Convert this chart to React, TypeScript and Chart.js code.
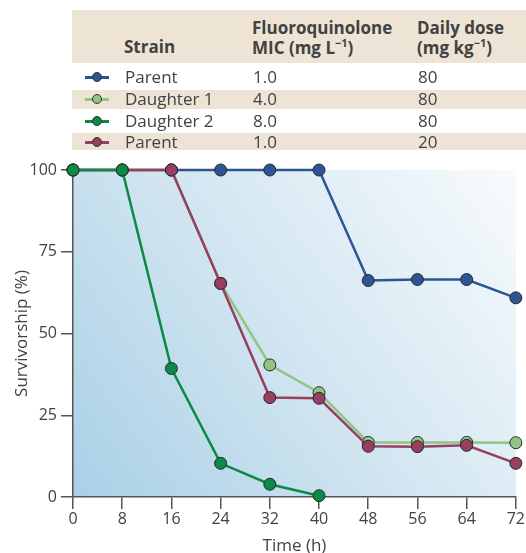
import React, { useEffect, useRef } from "react";
import { Chart, registerables } from "chart.js";

Chart.register(...registerables);

const hours = [0, 8, 16, 24, 32, 40, 48, 56, 64, 72];
const parent80 = [100, 100, 100, 100, 100, 100, 66.2, 66.5, 66.5, 60.9];
const daughter1 = [100, 100, 100, 65.3, 40.4, 31.9, 16.7, 16.7, 16.7, 16.6];
const daughter2 = [100, 100, 39.3, 10.3, 3.9, 0.4];
const parent20 = [100, 100, 100, 65.3, 30.4, 30.2, 15.5, 15.4, 15.8, 10.3];
const yTicks = [0, 25, 50, 75, 100];

const strains = ["Parent", "Daughter 1", "Daughter 2", "Parent"];
const mics = ["1.0", "4.0", "8.0", "1.0"];
const doses = ["80", "80", "80", "20"];
const colors = ["#2d5596", "#90c583", "#0b8a47", "#983f60"];

const FONT = "'Open Sans', 'Noto Sans', sans-serif";
const TEXT = "#424242";
const AXIS = "#555555";

const toPts = (arr: number[]) => arr.map((v, i) => ({ x: hours[i], y: v }));

const bgPlugin = {
  id: "bgGrad",
  beforeDraw(chart: any) {
    const { ctx, chartArea: a } = chart;
    const g = ctx.createLinearGradient(a.left, a.bottom, a.right, a.top);
    g.addColorStop(0, "#a9d0e6");
    g.addColorStop(0.45, "#cfe4f0");
    g.addColorStop(1, "#f8fbfd");
    ctx.save();
    ctx.fillStyle = g;
    ctx.fillRect(a.left, a.top, a.right - a.left, a.bottom - a.top);
    ctx.restore();
  },
};

function Marker({ color }: { color: string }) {
  return (
    <div style={{ position: "relative", width: 24, height: 10 }}>
      <div style={{ position: "absolute", left: 0, top: 4, width: 24, height: 2.5, background: color }} />
      <div
        style={{
          position: "absolute",
          left: 7,
          top: 0,
          width: 8,
          height: 8,
          borderRadius: "50%",
          background: color,
          border: "1px solid #333",
        }}
      />
    </div>
  );
}

export default function App() {
  const ref = useRef<HTMLCanvasElement | null>(null);

  useEffect(() => {
    document.body.style.margin = "0";
    const series = [
      { label: "Daughter 2", data: daughter2, color: colors[2] },
      { label: "Parent (20)", data: parent20, color: colors[3] },
      { label: "Daughter 1", data: daughter1, color: colors[1] },
      { label: "Parent (80)", data: parent80, color: colors[0] },
    ];
    const chart = new Chart(ref.current as HTMLCanvasElement, {
      type: "line",
      data: {
        datasets: series.map((s) => ({
          label: s.label,
          data: toPts(s.data),
          borderColor: s.color,
          backgroundColor: s.color,
          borderWidth: 2.5,
          pointRadius: 6,
          pointBorderColor: "#2a2a2a",
          pointBorderWidth: 1,
          pointBackgroundColor: s.color,
          tension: 0,
          clip: false,
        })),
      },
      options: {
        animation: false,
        responsive: false,
        layout: { padding: { top: 170, right: 9, left: 0, bottom: 0 } },
        plugins: { legend: { display: false }, tooltip: { enabled: false } },
        scales: {
          x: {
            type: "linear",
            min: 0,
            max: 72,
            afterFit: (s: any) => {
              s.height = 56;
            },
            ticks: {
              stepSize: 8,
              color: TEXT,
              font: { family: FONT, size: 16 },
              padding: 1,
            },
            grid: { drawOnChartArea: false, tickLength: 12, color: AXIS, lineWidth: 1.5 },
            border: { color: AXIS, width: 1.5 },
            title: {
              display: true,
              text: "Time (h)",
              color: TEXT,
              font: { family: FONT, size: 17 },
              padding: { top: 0, bottom: -3 },
            },
          },
          y: {
            min: 0,
            max: 100,
            afterFit: (s: any) => {
              s.width = 73;
            },
            afterBuildTicks: (s: any) => {
              s.ticks = yTicks.map((v) => ({ value: v }));
            },
            ticks: {
              color: TEXT,
              font: { family: FONT, size: 16 },
              padding: 4,
            },
            grid: { drawOnChartArea: false, tickLength: 12, color: AXIS, lineWidth: 1.5 },
            border: { color: AXIS, width: 1.5 },
            title: {
              display: true,
              text: "Survivorship (%)",
              color: TEXT,
              font: { family: FONT, size: 17 },
              padding: { top: 12, bottom: 0 },
            },
          },
        },
      },
      plugins: [bgPlugin],
    } as any);
    return () => chart.destroy();
  }, []);

  const beige = "#eee4d5";
  const rowTops = [66, 88, 110, 131];
  const sup = { fontSize: 11, verticalAlign: "7px", lineHeight: 0 } as const;

  return (
    <div style={{ position: "relative", width: 526, height: 553, fontFamily: FONT, color: TEXT }}>
      <canvas ref={ref} width={526} height={553} style={{ position: "absolute", left: 0, top: 0 }} />
      <div style={{ position: "absolute", left: 72, top: 10, width: 454, height: 53, background: beige }} />
      <div style={{ position: "absolute", left: 72, top: 90, width: 454, height: 19, background: beige }} />
      <div style={{ position: "absolute", left: 72, top: 133, width: 454, height: 17, background: beige }} />
      <div style={{ position: "absolute", left: 124, top: 37, fontWeight: 700, fontSize: 17, lineHeight: "20px" }}>Strain</div>
      <div style={{ position: "absolute", left: 252, top: 18, fontWeight: 700, fontSize: 17, lineHeight: "20px" }}>
        Fluoroquinolone
        <br />
        MIC (mg L<sup style={sup}>−1</sup>)
      </div>
      <div style={{ position: "absolute", left: 417, top: 18, fontWeight: 700, fontSize: 17, lineHeight: "20px" }}>
        Daily dose
        <br />
        (mg kg<sup style={sup}>−1</sup>)
      </div>
      {strains.map((s, i) => (
        <React.Fragment key={i}>
          <div style={{ position: "absolute", left: 85, top: rowTops[i] + 6 }}>
            <Marker color={colors[i]} />
          </div>
          <div style={{ position: "absolute", left: 125, top: rowTops[i], fontSize: 17, lineHeight: "21px" }}>{s}</div>
          <div style={{ position: "absolute", left: 253, top: rowTops[i], fontSize: 17, lineHeight: "21px" }}>{mics[i]}</div>
          <div style={{ position: "absolute", left: 418, top: rowTops[i], fontSize: 17, lineHeight: "21px" }}>{doses[i]}</div>
        </React.Fragment>
      ))}
    </div>
  );
}
